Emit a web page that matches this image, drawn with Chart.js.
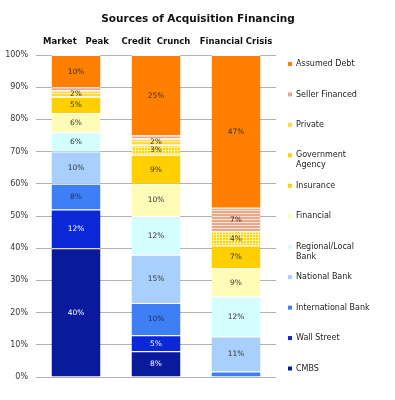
<!DOCTYPE html>
<html><head><meta charset="utf-8">
<script src="https://cdn.jsdelivr.net/npm/chart.js@4/dist/chart.umd.min.js"></script>
<style>html,body{margin:0;padding:0;background:#fff;}#wrap{width:395px;height:400px;position:relative;}</style>
</head><body><div id="wrap"><canvas id="c" width="395" height="400"></canvas></div>
<script>
// ---- data ----
const categories = ["Market   Peak", "Credit  Crunch", "Financial Crisis"];
const cmbs              = [40, 8, 0];
const wallStreet        = [12, 5, 0];
const internationalBank = [8, 10, 1.7];
const nationalBank      = [10, 15, 10.9];
const regionalBank      = [6, 12, 12.4];
const financial         = [6, 10, 8.8];
const insurance         = [5, 9, 7];
const governmentAgency  = [0, 3, 4.4];
const privateFin        = [2, 2, 0];
const sellerFinanced    = [1, 1, 7.4];
const assumedDebt       = [10, 25, 47.4];
const yTicks = [0, 10, 20, 30, 40, 50, 60, 70, 80, 90, 100];
const titleText = "Sources of Acquisition Financing";

// ---- patterns ----
function stripes(base, line, h) {
  const c = document.createElement('canvas'); c.width = 4; c.height = h;
  const x = c.getContext('2d'); x.fillStyle = base; x.fillRect(0,0,4,h);
  x.fillStyle = line; x.fillRect(0,0,4,1);
  return x.createPattern(c, 'repeat');
}
function grid(base, line) {
  const c = document.createElement('canvas'); c.width = 3; c.height = 3;
  const x = c.getContext('2d'); x.fillStyle = base; x.fillRect(0,0,3,3);
  x.fillStyle = line; x.fillRect(0,0,3,1); x.fillRect(0,0,1,3);
  return x.createPattern(c, 'repeat');
}
const ctx = document.getElementById('c').getContext('2d');

const series = [
  {name: "CMBS", data: cmbs, color: "#0a1a9c", text: "#ffffff"},
  {name: "Wall Street", data: wallStreet, color: "#0b27d6", text: "#ffffff"},
  {name: "International Bank", data: internationalBank, color: "#3f7ff5", text: "#1a2a55"},
  {name: "National Bank", data: nationalBank, color: "#a9d0fc", text: "#333333"},
  {name: "Regional/Local\nBank", data: regionalBank, color: "#d4fdfd", text: "#333333"},
  {name: "Financial", data: financial, color: "#fffcb8", text: "#333333"},
  {name: "Insurance", data: insurance, color: "#ffcf00", text: "#333333"},
  {name: "Government\nAgency", data: governmentAgency, color: grid("#ffd200", "#fff3a0"), swatch: "#ffd200", text: "#333333"},
  {name: "Private", data: privateFin, color: stripes("#ffd84a", "#fff2b0", 3), swatch: "#ffd84a", text: "#333333"},
  {name: "Seller Financed", data: sellerFinanced, color: stripes("#eaa88a", "#fbe4d8", 3), swatch: "#eaa88a", text: "#333333"},
  {name: "Assumed Debt", data: assumedDebt, color: "#ff7f00", text: "#333333"}
];

const FONT = "'DejaVu Sans', sans-serif";

const labelPlugin = {
  id: 'segLabels',
  afterDatasetsDraw(chart) {
    const c = chart.ctx;
    c.save();
    c.font = "7.5px " + FONT;
    c.textAlign = 'center'; c.textBaseline = 'middle';
    chart.data.datasets.forEach((ds, i) => {
      const meta = chart.getDatasetMeta(i);
      meta.data.forEach((el, j) => {
        const v = ds.data[j];
        if (v >= 2) {
          c.fillStyle = series[i].text;
          c.fillText(Math.round(v) + "%", el.x, (el.y + el.base) / 2 + 0.5);
        }
      });
    });
    c.restore();
  }
};

const decorPlugin = {
  id: 'decor',
  afterDraw(chart) {
    const c = chart.ctx, a = chart.chartArea;
    c.save();
    c.fillStyle = "#111";
    c.font = "bold 10.5px " + FONT;
    c.textAlign = 'center'; c.textBaseline = 'middle';
    c.fillText(titleText, 198, 19);
    // legend
    c.font = "8px " + FONT;
    c.textAlign = 'left';
    const n = series.length;
    for (let k = 0; k < n; k++) {
      const s = series[n - 1 - k];
      const y = a.top + 9 + k * 30.45;
      c.fillStyle = s.swatch || s.color;
      c.fillRect(a.right + 12, y - 2, 4, 4);
      c.fillStyle = "#222";
      s.name.split("\n").forEach((ln, li) => c.fillText(ln, a.right + 20, y + li * 10));
    }
    c.restore();
  }
};

new Chart(ctx, {
  type: 'bar',
  data: {
    labels: categories,
    datasets: series.map(s => ({
      label: s.name,
      data: s.data,
      backgroundColor: s.color,
      borderColor: '#ffffff',
      borderWidth: {top: 1, right: 0, bottom: 0, left: 0},
      borderSkipped: false,
      categoryPercentage: 1,
      barPercentage: 0.6125
    }))
  },
  options: {
    responsive: false,
    animation: false,
    layout: {padding: {top: 0, right: 119, bottom: 23, left: 0}},
    plugins: {legend: {display: false}, title: {display: false}, tooltip: {enabled: false}},
    scales: {
      x: {
        stacked: true, position: 'top',
        grid: {display: false, drawTicks: false}, border: {display: false},
        ticks: {font: {family: FONT, size: 8.5, weight: 'bold'}, color: '#111', padding: 8, maxRotation: 0, autoSkip: false},
        afterFit(s) { s.height = 55; }
      },
      y: {
        stacked: true, min: 0, max: 100,
        afterBuildTicks(s) { s.ticks = yTicks.map(v => ({value: v})); },
        grid: {color: '#b0b0b0', lineWidth: 1, drawTicks: false}, border: {display: false},
        ticks: {font: {family: FONT, size: 8}, color: '#333', padding: 8, callback: v => v + '%'},
        afterFit(s) { s.width = 36; }
      }
    }
  },
  plugins: [labelPlugin, decorPlugin]
});
</script>
</body></html>
